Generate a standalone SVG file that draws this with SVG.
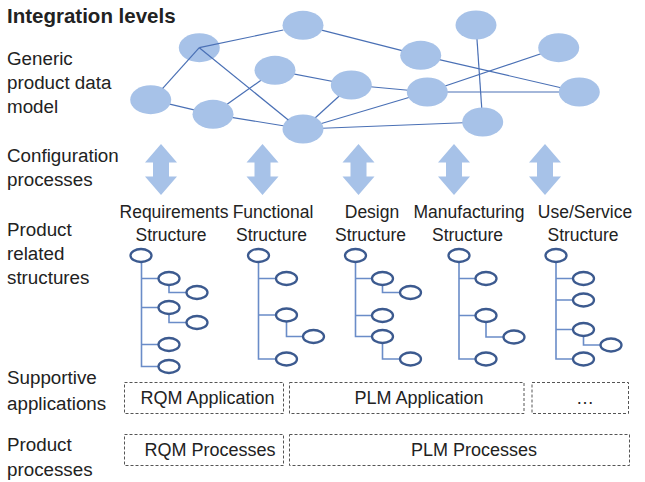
<svg xmlns="http://www.w3.org/2000/svg" width="645" height="482" viewBox="0 0 645 482">
<defs>
<style>
text{font-family:"Liberation Sans",Arial,sans-serif;fill:#222}
.lbl{font-size:18.8px}
.ttl{font-size:20.5px;font-weight:bold}
.st{font-size:17.5px;text-anchor:middle}
.bx{font-size:18px;text-anchor:middle}
.n{fill:#a7c2e8}
.e{stroke:#4a70b5;stroke-width:1.2;fill:none}
.arr{fill:#a7c2e8}
.tn{fill:#fff;stroke:#3c5a8f;stroke-width:2.3}
.tc{stroke:#6a8cc8;stroke-width:1.6;fill:none}
.db{fill:none;stroke:#555;stroke-width:1;stroke-dasharray:3 2}
</style>
<path id="darr" d="M0,-25.5 L16,-7 L8,-7 L8,7 L16,7 L0,25.5 L-16,7 L-8,7 L-8,-7 L-16,-7 Z"/>
</defs>
<g id="level-labels">
<text class="ttl" x="7" y="23">Integration levels</text>
<text class="lbl" x="7" y="65">Generic</text>
<text class="lbl" x="7" y="89">product data</text>
<text class="lbl" x="7" y="113">model</text>
<text class="lbl" x="7" y="162">Configuration</text>
<text class="lbl" x="7" y="186">processes</text>
<text class="lbl" x="7" y="236">Product</text>
<text class="lbl" x="7" y="260">related</text>
<text class="lbl" x="7" y="284">structures</text>
<text class="lbl" x="7" y="384">Supportive</text>
<text class="lbl" x="7" y="410">applications</text>
<text class="lbl" x="7" y="451">Product</text>
<text class="lbl" x="7" y="476">processes</text>
</g>
<g id="connectors">
<line class="e" x1="303" y1="25.3" x2="420.7" y2="55.3"/>
<line class="e" x1="420.7" y1="55.3" x2="579.3" y2="92"/>
<line class="e" x1="476" y1="25" x2="482.7" y2="122"/>
<line class="e" x1="558.7" y1="47.7" x2="427.3" y2="92"/>
<line class="e" x1="275" y1="70.3" x2="351.3" y2="85"/>
<line class="e" x1="275" y1="70.3" x2="213" y2="114.3"/>
<line class="e" x1="351.3" y1="85" x2="427.3" y2="92"/>
<line class="e" x1="351.3" y1="85" x2="303" y2="129"/>
<line class="e" x1="427.3" y1="92" x2="579.3" y2="92"/>
<line class="e" x1="427.3" y1="92" x2="303" y2="129"/>
<line class="e" x1="150.7" y1="99.7" x2="213" y2="114.3"/>
<line class="e" x1="213" y1="114.3" x2="303" y2="129"/>
<line class="e" x1="303" y1="129" x2="482.7" y2="122"/>
</g>
<g id="data-model">
<ellipse id="nA" class="n" cx="199.3" cy="47.7" rx="20.5" ry="14.5"/>
<ellipse id="nB" class="n" cx="303" cy="25.3" rx="20.5" ry="14.5"/>
<ellipse id="nC" class="n" cx="476" cy="25" rx="20.5" ry="14.5"/>
<ellipse id="nD" class="n" cx="420.7" cy="55.3" rx="20.5" ry="14.5"/>
<ellipse id="nE" class="n" cx="558.7" cy="47.7" rx="20.5" ry="14.5"/>
<ellipse id="nF" class="n" cx="275" cy="70.3" rx="20.5" ry="14.5"/>
<ellipse id="nG" class="n" cx="351.3" cy="85" rx="20.5" ry="14.5"/>
<ellipse id="nH" class="n" cx="427.3" cy="92" rx="20.5" ry="14.5"/>
<ellipse id="nI" class="n" cx="579.3" cy="92" rx="20.5" ry="14.5"/>
<ellipse id="nJ" class="n" cx="150.7" cy="99.7" rx="20.5" ry="14.5"/>
<ellipse id="nK" class="n" cx="213" cy="114.3" rx="20.5" ry="14.5"/>
<ellipse id="nL" class="n" cx="303" cy="129" rx="20.5" ry="14.5"/>
<ellipse id="nM" class="n" cx="482.7" cy="122" rx="20.5" ry="14.5"/>
</g>
<g id="connectors-A">
<line class="e" x1="199.3" y1="47.7" x2="283.3" y2="30"/>
<line class="e" x1="199.3" y1="47.7" x2="162.7" y2="88.3"/>
<line class="e" x1="199.3" y1="47.7" x2="288.3" y2="120"/>
</g>
<g id="config-arrows" class="arr">
<use href="#darr" x="161" y="169.5"/>
<use href="#darr" x="262.5" y="169.5"/>
<use href="#darr" x="358.5" y="169.5"/>
<use href="#darr" x="454" y="169.5"/>
<use href="#darr" x="545" y="169.5"/>
</g>
<g id="structure-labels">
<text class="st" x="174" y="218">Requirements</text>
<text class="st" x="171" y="241">Structure</text>
<text class="st" x="273" y="218">Functional</text>
<text class="st" x="271.5" y="241">Structure</text>
<text class="st" x="372" y="218">Design</text>
<text class="st" x="370.5" y="241">Structure</text>
<text class="st" x="469" y="218">Manufacturing</text>
<text class="st" x="467.5" y="241">Structure</text>
<text class="st" x="585" y="218">Use/Service</text>
<text class="st" x="583" y="241">Structure</text>
</g>
<g id="tree-requirements">
<path class="tc" d="M141.5,262 V366.5 H158.5 M141.5,278.5 H158.5 M141.5,307.5 H158.5 M141.5,344.5 H158.5 M169,285 V292.5 H186.5 M169,314 V322.5 H186.5"/>
<ellipse class="tn" cx="141" cy="255.5" rx="10.5" ry="6.5"/>
<ellipse class="tn" cx="169" cy="278.5" rx="10.5" ry="6.5"/>
<ellipse class="tn" cx="197" cy="292.5" rx="10.5" ry="6.5"/>
<ellipse class="tn" cx="169" cy="307.5" rx="10.5" ry="6.5"/>
<ellipse class="tn" cx="197" cy="322.5" rx="10.5" ry="6.5"/>
<ellipse class="tn" cx="169" cy="344.5" rx="10.5" ry="6.5"/>
<ellipse class="tn" cx="169" cy="366.5" rx="10.5" ry="6.5"/>
</g>
<g id="tree-functional">
<path class="tc" d="M258.5,262 V359 H276 M258.5,278.5 H276 M258.5,315 H276 M286.5,321.5 V336.5 H303"/>
<ellipse class="tn" cx="258.5" cy="255.5" rx="10.5" ry="6.5"/>
<ellipse class="tn" cx="286.5" cy="278.5" rx="10.5" ry="6.5"/>
<ellipse class="tn" cx="286.5" cy="315" rx="10.5" ry="6.5"/>
<ellipse class="tn" cx="313.5" cy="336.5" rx="10.5" ry="6.5"/>
<ellipse class="tn" cx="286.5" cy="359" rx="10.5" ry="6.5"/>
</g>
<g id="tree-design">
<path class="tc" d="M355.5,262 V336.5 H372 M355.5,278.5 H372 M355.5,315.5 H372 M382.5,285 V292.5 H400 M382.5,343 V359 H400"/>
<ellipse class="tn" cx="355.5" cy="255.5" rx="10.5" ry="6.5"/>
<ellipse class="tn" cx="382.5" cy="278.5" rx="10.5" ry="6.5"/>
<ellipse class="tn" cx="410.5" cy="292.5" rx="10.5" ry="6.5"/>
<ellipse class="tn" cx="382.5" cy="315.5" rx="10.5" ry="6.5"/>
<ellipse class="tn" cx="382.5" cy="336.5" rx="10.5" ry="6.5"/>
<ellipse class="tn" cx="410.5" cy="359" rx="10.5" ry="6.5"/>
</g>
<g id="tree-manufacturing">
<path class="tc" d="M459,262 V359 H475.5 M459,278.5 H475.5 M459,315.5 H475.5 M486,322 V337 H503.5"/>
<ellipse class="tn" cx="459" cy="255.5" rx="10.5" ry="6.5"/>
<ellipse class="tn" cx="486" cy="278.5" rx="10.5" ry="6.5"/>
<ellipse class="tn" cx="486" cy="315.5" rx="10.5" ry="6.5"/>
<ellipse class="tn" cx="514" cy="337" rx="10.5" ry="6.5"/>
<ellipse class="tn" cx="486" cy="359" rx="10.5" ry="6.5"/>
</g>
<g id="tree-use-service">
<path class="tc" d="M556,262 V359 H573 M556,278.5 H573 M556,300 H573 M556,329.5 H573 M583.5,336 V345 H600.5"/>
<ellipse class="tn" cx="556" cy="255.5" rx="10.5" ry="6.5"/>
<ellipse class="tn" cx="583.5" cy="278.5" rx="10.5" ry="6.5"/>
<ellipse class="tn" cx="583.5" cy="300" rx="10.5" ry="6.5"/>
<ellipse class="tn" cx="583.5" cy="329.5" rx="10.5" ry="6.5"/>
<ellipse class="tn" cx="611" cy="345" rx="10.5" ry="6.5"/>
<ellipse class="tn" cx="583.5" cy="359" rx="10.5" ry="6.5"/>
</g>
<g id="rqm-application">
<rect class="db" x="124.5" y="382.5" width="159" height="31"/>
<text class="bx" x="207.5" y="404">RQM Application</text>
</g>
<g id="plm-application">
<rect class="db" x="289.5" y="382.5" width="234.5" height="31"/>
<text class="bx" x="419" y="404">PLM Application</text>
</g>
<g id="other-application">
<rect class="db" x="532" y="382.5" width="96.5" height="31"/>
<text class="bx" x="585" y="404">…</text>
</g>
<g id="rqm-processes">
<rect class="db" x="124.5" y="434.5" width="159" height="31"/>
<text class="bx" x="210" y="456">RQM Processes</text>
</g>
<g id="plm-processes">
<rect class="db" x="289.5" y="434.5" width="340" height="31"/>
<text class="bx" x="474" y="456">PLM Processes</text>
</g>
</svg>
